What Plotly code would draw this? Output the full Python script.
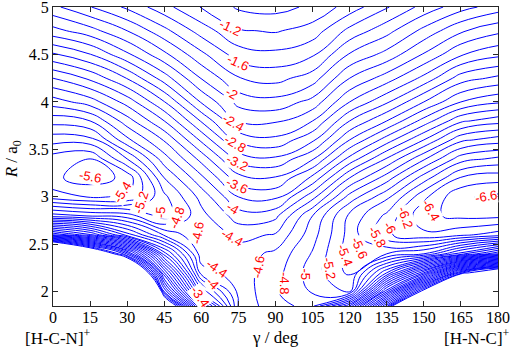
import plotly.graph_objects as go

# Bending angle gamma (deg) and Jacobi distance R (bohr) of the grid
gamma_deg = [0, 15, 30, 45, 60, 75, 90, 105, 120, 135, 150, 165, 180]
R_bohr = [1.85, 2.0, 2.2, 2.4, 2.6, 2.8, 3.0, 3.2, 3.4, 3.6, 3.8, 4.0, 4.25, 4.5, 4.75, 5.0]

# Potential energy (eV) read from the contour map, one row per R value (ascending R),
# one column per gamma value
energy = [
    [19.0, 18.0, 12.0, 1.2, -2.4, -4.42, -4.75, -4.85, -3.6, -0.7, 4.0, 9.0, 10.0],        # R=1.85
    [14.0, 13.0, 8.0, -0.6, -3.45, -4.45, -4.78, -5.02, -5.2, -2.4, 0.3, 5.0, 6.0],        # R=2.0
    [8.0, 7.0, 2.4, -1.8, -4.3, -4.5, -4.72, -5.1, -5.45, -4.2, -2.6, -0.3, 1.0],          # R=2.2
    [3.4, 1.18, -0.64, -3.1, -4.52, -4.5, -4.65, -5.02, -5.5, -5.4, -5.2, -4.5, -3.8],     # R=2.4
    [-2.0, -2.56, -3.5, -4.23, -4.58, -4.34, -4.42, -4.92, -5.48, -5.97, -6.15, -6.05, -5.9],  # R=2.6
    [-4.3, -4.42, -4.5, -4.9, -4.47, -4.1, -4.15, -4.8, -5.45, -5.85, -6.35, -6.45, -6.45],   # R=2.8
    [-5.3, -5.42, -5.38, -4.85, -4.33, -3.8, -3.75, -4.33, -5.08, -5.55, -6.15, -6.57, -6.65],  # R=3.0
    [-5.56, -5.7, -5.55, -4.6, -4.05, -3.47, -3.42, -3.85, -4.6, -5.1, -5.7, -6.22, -6.32],  # R=3.2
    [-5.5, -5.6, -5.0, -4.29, -3.73, -3.12, -3.04, -3.38, -4.07, -4.62, -5.17, -5.71, -5.85],  # R=3.4
    [-5.12, -5.08, -4.45, -3.98, -3.36, -2.74, -2.65, -2.96, -3.6, -4.1, -4.6, -5.15, -5.3],  # R=3.6
    [-4.72, -4.6, -4.09, -3.6, -2.98, -2.39, -2.37, -2.6, -3.2, -3.6, -4.08, -4.56, -4.72],  # R=3.8
    [-4.3, -4.1, -3.72, -3.21, -2.58, -2.13, -2.07, -2.27, -2.8, -3.17, -3.6, -4.0, -4.17],  # R=4.0
    [-3.8, -3.56, -3.19, -2.7, -2.19, -1.81, -1.73, -1.9, -2.4, -2.7, -3.06, -3.5, -3.65],  # R=4.25
    [-3.23, -3.01, -2.64, -2.25, -1.85, -1.5, -1.45, -1.57, -2.02, -2.27, -2.62, -2.98, -3.15],  # R=4.5
    [-2.67, -2.48, -2.2, -1.86, -1.51, -1.22, -1.18, -1.29, -1.66, -1.93, -2.26, -2.57, -2.75],  # R=4.75
    [-2.25, -2.01, -1.76, -1.47, -1.19, -0.97, -0.93, -1.04, -1.29, -1.58, -1.87, -2.12, -2.3],  # R=5.0
]

# Contour levels (eV)
level_start = -6.6
level_end = 0.0
level_step = 0.2

# Contour labels as printed on the map
label_text = ["-1.2", "-1.6", "-2", "-2.4", "-2.8", "-3.2", "-3.6", "-4", "-4.4",
              "-4.6", "-4.8", "-5", "-5.2", "-5.4", "-5.6",
              "-4.4", "-4", "-3.4",
              "-4.6", "-4.8", "-5", "-5.2", "-5.4", "-5.6", "-5.8", "-6", "-6.2", "-6.4", "-6.6"]

# label anchors (gamma, R) and rotation
label_gamma = [71.6, 74.8, 72.4, 72.8, 73.6, 74.4, 74.4, 72.8, 72.4,
               58.7, 50.2, 43.3, 35.6, 27.9, 15.0,
               66.3, 64.7, 59.5,
               82.9, 93.9, 102.0, 112.0, 118.0, 124.0, 131.0, 136.5, 142.5, 153.0, 175.0]
label_R = [4.78, 4.42, 4.09, 3.78, 3.56, 3.36, 3.12, 2.88, 2.57,
           2.62, 2.78, 2.84, 2.94, 3.05, 3.21,
           2.25, 2.09, 1.95,
           2.26, 2.09, 2.18, 2.25, 2.39, 2.47, 2.58, 2.67, 2.78, 2.86, 3.0]
label_angle = [25, 25, 30, 30, 30, 25, 25, 30, 30,
               -80, -70, -88, -72, -58, 10,
               35, 45, 55,
               -80, 90, 90, 80, 70, 65, 60, 60, 70, 60, -10]

fig = go.Figure()
fig.add_trace(go.Contour(
    x=gamma_deg, y=R_bohr, z=energy,
    contours=dict(start=level_start, end=level_end, size=level_step,
                  coloring="lines", showlabels=False),
    line=dict(width=1, smoothing=1.3),
    colorscale=[[0, "rgb(0,0,255)"], [1, "rgb(0,0,255)"]],
    showscale=False, hoverinfo="skip",
))

for t, g, r, a in zip(label_text, label_gamma, label_R, label_angle):
    fig.add_annotation(x=g, y=r, xref="x", yref="y", text=t, showarrow=False,
                       textangle=a, bgcolor="white", borderpad=0,
                       font=dict(family="'Liberation Sans', Arial, sans-serif", size=13, color="red"))

serif = "'Liberation Serif', 'Times New Roman', serif"
txt_font = dict(family=serif, size=17, color="black")
tick_font = dict(family=serif, size=16, color="black")
fig.add_annotation(x=0.011, y=-0.105, xref="paper", yref="paper", text="[H-C-N]<sup>+</sup>",
                   showarrow=False, xanchor="center", yanchor="middle", font=txt_font)
fig.add_annotation(x=0.953, y=-0.105, xref="paper", yref="paper", text="[H-N-C]<sup>+</sup>",
                   showarrow=False, xanchor="center", yanchor="middle", font=txt_font)
fig.add_annotation(x=0.5, y=-0.105, xref="paper", yref="paper", text="γ / deg",
                   showarrow=False, xanchor="center", yanchor="middle", font=txt_font)
fig.add_annotation(x=-0.088, y=0.49, xref="paper", yref="paper", text="<i>R</i> / a<sub>0</sub>",
                   showarrow=False, xanchor="center", yanchor="middle", textangle=-90, font=txt_font)

axis_common = dict(showline=True, linecolor="#262626", linewidth=1, mirror="allticks",
                   ticks="inside", ticklen=5, tickcolor="#262626", showgrid=False,
                   zeroline=False, tickfont=tick_font, automargin=False,
                   ticklabeloverflow="allow")
fig.update_xaxes(range=[0, 180], tickvals=gamma_deg, ticktext=[str(v) for v in gamma_deg],
                 ticklabelstandoff=-3, **axis_common)
fig.update_yaxes(range=[1.85, 5.0005], tickvals=[2, 2.5, 3, 3.5, 4, 4.5, 5],
                 ticktext=["2", "2.5", "3", "3.5", "4", "4.5", "5"], **axis_common)
fig.update_layout(width=512, height=349, margin=dict(l=53, r=14, t=7, b=43),
                  plot_bgcolor="white", paper_bgcolor="white", showlegend=False)
fig.write_html("out.html", config={"displayModeBar": False},
               post_script="document.body.style.margin='0px';")
